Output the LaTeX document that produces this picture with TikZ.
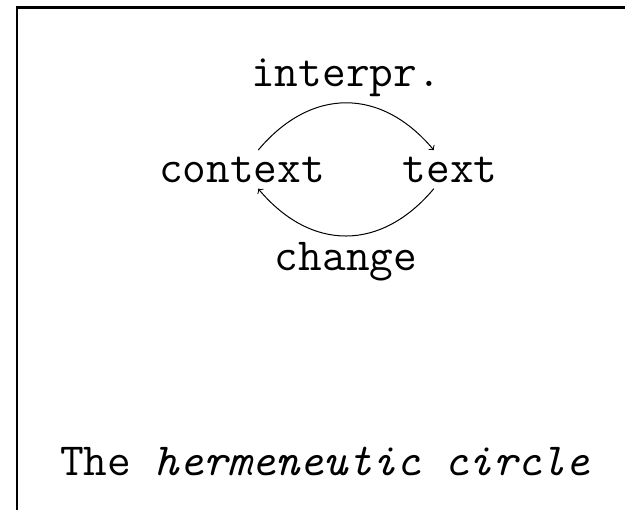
\documentclass[tikz,border=0pt]{standalone}
\usepackage{fontspec}
\begin{document}
\begin{tikzpicture}[x=.5pt,y=.5pt,
  wordstyle/.style={font=\ttfamily\fontsize{23}{28}\selectfont,inner sep=3pt},
  framestyle/.style={line width=1.25pt}]
\useasboundingbox (0,0) rectangle (625,-510);

%Frame
\coordinate (f1) at (625,-7.5);
\coordinate (f2) at (17,-7.5);
\coordinate (f3) at (17,-510);
\draw[framestyle] (f1) -- (f2) -- (f3);

%Circle
\node[wordstyle,anchor=base] (context) at (242,-182) {context};
\node[wordstyle,anchor=base] (text) at (450,-182) {text};

\draw (context) edge[->, bend left=50, looseness=1.2, line width=.5pt] node[wordstyle,auto] {interpr.} (text);
\draw (text) edge[->, bend left=50, looseness=1.2, line width=.5pt] node[wordstyle,auto] {change} (context);

%Caption
\node[wordstyle,anchor=base] (caption) at (325,-475) {The \textit{hermeneutic circle}};

\end{tikzpicture}
\end{document}
